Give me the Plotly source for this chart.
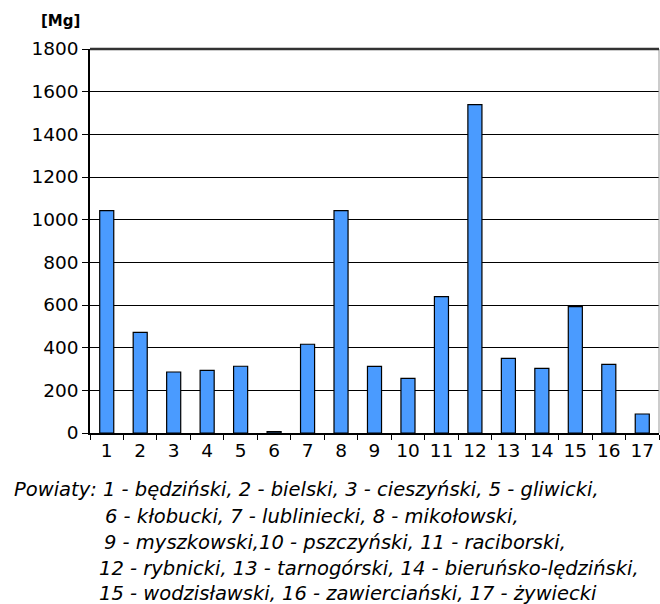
import plotly.graph_objects as go

categories = [str(i) for i in range(1, 18)]
values = [1042, 472, 286, 294, 313, 6, 416, 1042, 312, 256, 639, 1539, 350, 303, 592, 322, 89]
y_ticks = list(range(0, 1801, 200))
unit_label = "[Mg]"
caption_lines = [
    "Powiaty: 1 - będziński, 2 - bielski, 3 - cieszyński, 5 - gliwicki,",
    "6 - kłobucki, 7 - lubliniecki, 8 - mikołowski,",
    "9 - myszkowski,10 - pszczyński, 11 - raciborski,",
    "12 - rybnicki, 13 - tarnogórski, 14 - bieruńsko-lędziński,",
    "15 - wodzisławski, 16 - zawierciański, 17 - żywiecki",
]

W, H = 660, 604
L, R, T, B = 90, 1, 49, 171
plot_h = H - T - B
plot_w = W - L - R

def px_x(x):
    return (x - L) / plot_w

def px_y(y):
    return (H - B - y) / plot_h

fig = go.Figure()
fig.add_trace(go.Bar(
    x=categories, y=values,
    marker=dict(color="#4A9BFF", line=dict(color="black", width=1.2)),
    width=0.42,
))

font = "DejaVu Sans, Verdana, sans-serif"
fig.update_layout(
    width=W, height=H,
    margin=dict(l=L, r=R, t=T, b=B, autoexpand=False),
    paper_bgcolor="white", plot_bgcolor="white",
    showlegend=False,
    font=dict(family=font, color="black", size=18.5),
    xaxis=dict(
        type="category", showline=True, linecolor="black", linewidth=1.5,
        ticks="outside", tickson="boundaries", ticklen=5, tickcolor="black", tickwidth=1.2,
        showgrid=False, tickfont=dict(size=18.5, family=font), automargin=False,
    ),
    yaxis=dict(
        range=[0, 1800], tickvals=y_ticks, showline=True, linecolor="black", linewidth=1.5,
        ticks="outside", ticklen=6, tickcolor="black", tickwidth=1.2,
        showgrid=True, gridcolor="black", gridwidth=1.3, zeroline=False,
        tickfont=dict(size=18.5, family=font), automargin=False,
    ),
)

# right frame edge (grey)
fig.add_shape(type="line", xref="paper", yref="paper", x0=1, x1=1, y0=0, y1=1,
              line=dict(color="#999999", width=1))
# thicker top gridline
fig.add_shape(type="line", xref="paper", yref="paper", x0=0, x1=1, y0=1, y1=1,
              line=dict(color="#333333", width=2.5))

fig.add_annotation(text="<b>" + unit_label + "</b>", xref="paper", yref="paper",
                   x=px_x(60), y=px_y(21), xanchor="center", yanchor="middle",
                   showarrow=False, font=dict(size=15, family=font))

cap_pos = [(12, 489), (103, 516), (102, 542), (97, 568), (97, 593)]
for line, (cx, cy) in zip(caption_lines, cap_pos):
    fig.add_annotation(text="<i>" + line + "</i>", xref="paper", yref="paper",
                       x=px_x(cx), y=px_y(cy), xanchor="left", yanchor="middle",
                       showarrow=False, font=dict(size=19.5, family=font))

fig.write_html("out.html", config={"displayModeBar": False},
               post_script="document.body.style.margin='0';document.body.style.overflow='hidden';")
